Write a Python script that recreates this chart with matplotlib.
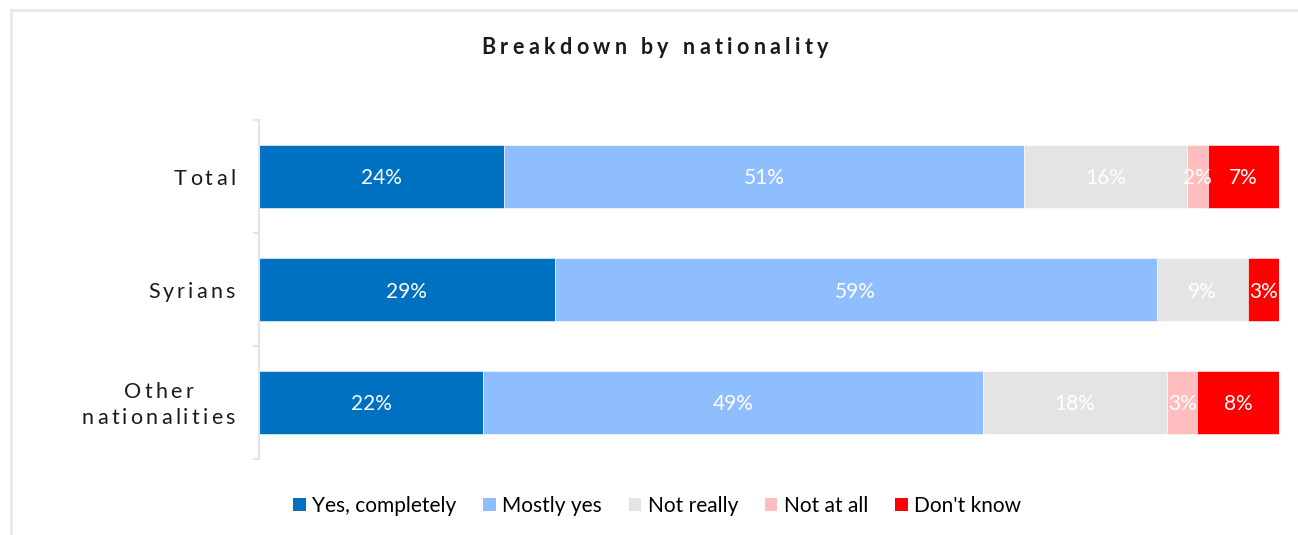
import matplotlib
matplotlib.use("Agg")
import matplotlib.pyplot as plt
from matplotlib.patches import Patch
from matplotlib.lines import Line2D
from matplotlib.font_manager import FontProperties

plt.rcParams['font.family'] = ['Lato', 'DejaVu Sans']

# ---- data -------------------------------------------------------------
groups = ["Total", "Syrians", "Other\nnationalities"]
answers = ["Yes, completely", "Mostly yes", "Not really", "Not at all", "Don't know"]
yes_completely = [24, 29, 22]
mostly_yes = [51, 59, 49]
not_really = [16, 9, 18]
not_at_all = [2, 0, 3]
dont_know = [7, 3, 8]
title = "Breakdown by nationality"

series = [yes_completely, mostly_yes, not_really, not_at_all, dont_know]
colors = ["#0070C0", "#8FBEFF", "#E4E4E4", "#FFBDC0", "#FF0000"]

W, H, DPI = 1298, 535, 100
fig = plt.figure(figsize=(W / DPI, H / DPI), dpi=DPI)

# outer frame (top and left edges)
fig.add_artist(Line2D([11 / W, 1297 / W], [1 - 10 / H, 1 - 10 / H],
                      transform=fig.transFigure, color="#E6E8EC", lw=2))
fig.add_artist(Line2D([11 / W, 11 / W], [1 - 10 / H, 0],
                      transform=fig.transFigure, color="#E6E8EC", lw=2))

ax_l, ax_r, ax_t, ax_b = 259, 1279, 120, 459
ax = fig.add_axes([ax_l / W, 1 - ax_b / H, (ax_r - ax_l) / W, (ax_b - ax_t) / H])

ypos = list(range(len(groups)))
left = [0] * len(groups)
for vals, col, name in zip(series, colors, answers):
    bars = ax.barh(ypos, vals, left=left, height=0.56, color=col,
                   edgecolor="white", linewidth=0.4, label=name)
    for b, v, l in zip(bars, vals, left):
        if v > 0:
            ax.text(l + v / 2, b.get_y() + b.get_height() / 2, f"{v}%",
                    ha="center", va="center_baseline", color="white", fontsize=15)
    left = [a + b for a, b in zip(left, vals)]

ax.set_xlim(0, 100)
ax.set_ylim(len(groups) - 0.5, -0.5)
ax.set_xticks([])
ax.set_yticks(ypos)
ax.set_yticklabels([])
ax.set_yticks([-0.5, 0.5, 1.5, 2.5], minor=True)
ax.tick_params(axis="y", which="major", length=0)
ax.tick_params(axis="y", which="minor", length=4, width=1.5, color="#E1E4E8", direction="out")
for s in ["top", "right", "bottom"]:
    ax.spines[s].set_visible(False)
ax.spines["left"].set_color("#E1E4E8")
ax.spines["left"].set_linewidth(1.5)

renderer = fig.canvas.get_renderer()


def spaced_text(s, x_px, y_px, spacing, size, weight="normal", ha="center", color="#1a1a1a"):
    """Draw text with extra tracking between letters; x_px/y_px in figure pixels (from top)."""
    fp = FontProperties(family=["Lato", "DejaVu Sans"], size=size, weight=weight)

    def width(t):
        if not t:
            return 0.0
        w, _, _ = renderer.get_text_width_height_descent(t.replace(" ", "\u00a0"), fp, ismath=False)
        return w

    total = width(s) + spacing * (len(s) - 1)
    if ha == "center":
        x0 = x_px - total / 2
    elif ha == "right":
        x0 = x_px - total
    else:
        x0 = x_px
    for i, ch in enumerate(s):
        if ch == " ":
            continue
        x = x0 + width(s[:i]) + spacing * i
        fig.text(x / W, 1 - y_px / H, ch, fontproperties=fp, ha="left",
                 va="center_baseline", color=color)


spaced_text(title, 655, 46, 4.4, 15.5, weight="bold")

# category labels, right-aligned block with centered lines
label_right = 235
centers = [177, 290, 403]
lab_size, lab_sp = 15.5, 3.2
for g, cy in zip(groups, centers):
    lines = g.split("\n")
    if len(lines) == 1:
        spaced_text(lines[0], label_right, cy, lab_sp, lab_size, ha="right")
    else:
        fp = FontProperties(family=["Lato", "DejaVu Sans"], size=lab_size)
        widths = []
        for ln in lines:
            w, _, _ = renderer.get_text_width_height_descent(ln, fp, ismath=False)
            widths.append(w + lab_sp * (len(ln) - 1))
        block = max(widths)
        cx = label_right - block / 2
        gap = 25
        y0 = cy - gap * (len(lines) - 1) / 2
        for k, ln in enumerate(lines):
            spaced_text(ln, cx, y0 + k * gap, lab_sp, lab_size, ha="center")

handles = [Patch(facecolor=c, edgecolor="none", label=n) for c, n in zip(colors, answers)]
fig.legend(handles=handles, loc="center", bbox_to_anchor=(657 / W, 1 - 506 / H),
           ncol=5, frameon=False, fontsize=15, handlelength=0.6, handleheight=0.6,
           handletextpad=0.3, columnspacing=1.3, borderaxespad=0)

fig.savefig("out.png", dpi=DPI, facecolor="white")
